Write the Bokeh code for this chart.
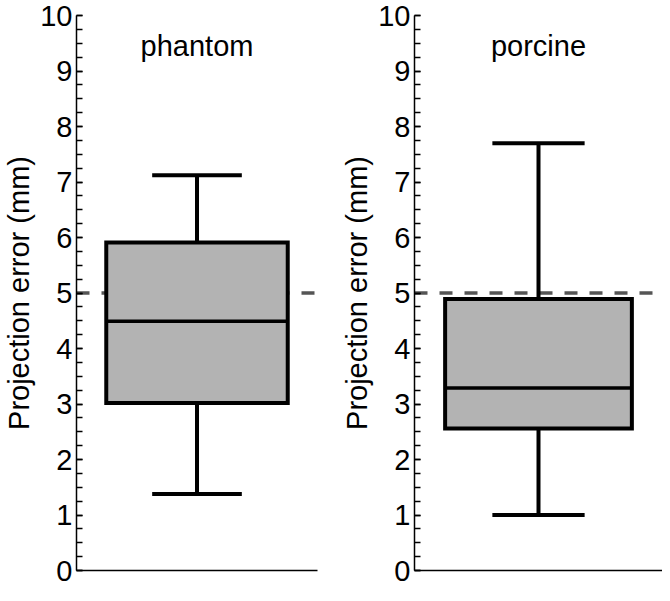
from bokeh.plotting import figure
from bokeh.layouts import row
from bokeh.models import Span, SingleIntervalTicker, FixedTicker, Range1d, ColumnDataSource, Label
from bokeh.embed import file_html
from bokeh.resources import INLINE

# ---- data ----
groups = ["phantom", "porcine"]
whisker_low = [1.38, 1.00]
q1 = [3.02, 2.56]
median = [4.49, 3.29]
q3 = [5.91, 4.89]
whisker_high = [7.12, 7.70]
threshold = 5.0
y_label = "Projection error (mm)"

FONT = "Liberation Sans"
FS = "29px"
BOX_W = 0.753
CAP_W = 0.372
XC = 0.5
TITLE_Y = 9.45


def make_panel(i, width, border_left, border_right):
    p = figure(width=width, height=585,
               x_range=Range1d(0, 1), y_range=Range1d(0, 10),
               output_backend="svg", toolbar_location=None,
               min_border_left=border_left, min_border_right=border_right,
               min_border_top=15, min_border_bottom=15)
    p.outline_line_color = None
    p.xgrid.visible = False
    p.ygrid.visible = False
    p.background_fill_color = "white"
    p.border_fill_color = "white"

    # y axis
    yax = p.yaxis[0]
    yax.ticker = SingleIntervalTicker(interval=1, num_minor_ticks=4)
    yax.axis_label = y_label
    yax.axis_label_text_font = FONT
    yax.axis_label_text_font_size = FS
    yax.axis_label_text_font_style = "normal"
    yax.axis_label_text_color = "black"
    yax.axis_label_standoff = 2
    yax.major_label_text_font = FONT
    yax.major_label_text_font_size = FS
    yax.major_label_text_color = "black"
    yax.major_label_standoff = 4
    yax.major_tick_in = 6
    yax.major_tick_out = 0
    yax.minor_tick_in = 6
    yax.minor_tick_out = 0
    yax.axis_line_width = 1.5
    yax.major_tick_line_width = 1.5
    yax.minor_tick_line_width = 1.5
    yax.axis_line_color = "black"
    yax.major_tick_line_color = "black"
    yax.minor_tick_line_color = "black"

    # x axis: only the base line
    xax = p.xaxis[0]
    xax.ticker = FixedTicker(ticks=[])
    xax.major_label_text_font_size = "0px"
    xax.major_tick_line_color = None
    xax.minor_tick_line_color = None
    xax.axis_line_width = 1.5
    xax.axis_line_color = "black"

    # threshold dashed line, behind the box
    span = Span(location=threshold, dimension="width", line_color="#555555",
                line_width=3.5, line_dash="13 12", level="underlay")
    p.add_layout(span)

    src = ColumnDataSource(dict(
        x=[XC], lo=[whisker_low[i]], q1=[q1[i]], med=[median[i]],
        q3=[q3[i]], hi=[whisker_high[i]],
        cap0=[XC - CAP_W / 2], cap1=[XC + CAP_W / 2],
        box0=[XC - BOX_W / 2], box1=[XC + BOX_W / 2]))
    # whiskers
    p.segment(x0="x", y0="q3", x1="x", y1="hi", source=src, line_color="black", line_width=4)
    p.segment(x0="x", y0="lo", x1="x", y1="q1", source=src, line_color="black", line_width=4)
    # caps
    p.segment(x0="cap0", y0="hi", x1="cap1", y1="hi", source=src, line_color="black", line_width=4)
    p.segment(x0="cap0", y0="lo", x1="cap1", y1="lo", source=src, line_color="black", line_width=4)
    # box
    p.vbar(x="x", width=BOX_W, bottom="q1", top="q3", source=src,
           fill_color="#b3b3b3", line_color="black", line_width=4, line_join="miter")
    # median
    p.segment(x0="box0", y0="med", x1="box1", y1="med", source=src,
              line_color="black", line_width=3.5)

    title = Label(x=XC, y=TITLE_Y, text=groups[i], text_align="center",
                  text_baseline="alphabetic", text_font=FONT, text_font_size=FS,
                  text_color="black")
    p.add_layout(title)
    return p


p1 = make_panel(0, 331, 70, 14)
p2 = make_panel(1, 331, 83, 0)
layout = row(p1, p2)

open("out.html", "w").write(file_html(layout, INLINE))
